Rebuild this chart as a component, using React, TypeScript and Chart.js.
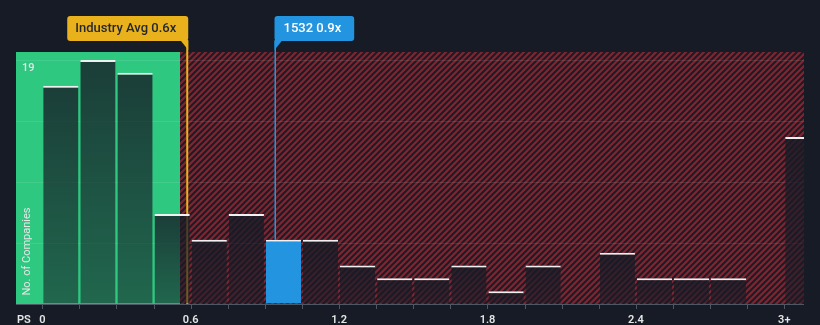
import React, { useEffect, useRef } from "react";
import { Chart, registerables } from "chart.js";

Chart.register(...registerables);

// Price-to-sales histogram: lower edge of each 0.15-wide bin, last bin is "3+"
const binStarts = [
  0, 0.15, 0.3, 0.45, 0.6, 0.75, 0.9, 1.05, 1.2, 1.35, 1.5, 1.65, 1.8, 1.95,
  2.1, 2.25, 2.4, 2.55, 2.7, 2.85, 3.0,
];
const companyCounts = [
  17, 19, 18, 7, 5, 7, 5, 5, 3, 2, 2, 3, 1, 3, 0, 4, 2, 2, 2, 0, 13,
];
const BIN_WIDTH = 0.15;
const highlightBin = 6;

const tickValues = [0, 0.6, 1.2, 1.8, 2.4, 3.0];
const tickLabels = ["0", "0.6", "1.2", "1.8", "2.4", "3+"];
const gridValues = [0, 4.75, 9.5, 14.25, 19];
const topCountLabel = 19;

const INDUSTRY_AVG = 0.586;
const COMPANY_PS = 0.939;
const COMPANY_CODE = "1532";
const FAIR_ZONE_END = 0.557;

const X_MIN = -0.1063;
const X_MAX = 3.0797;
const Y_MAX = 19.623;

const BG = "#161b26";
const GREEN = "#2ec880";
const BLUE = "#2394df";
const ORANGE = "#e9b11c";
const TEXT = "#e6e6e6";
const AXIS = "#4f5664";

const BOX_TOP = 16;
const BOX_H = 25;

function makeHatch(ctx: CanvasRenderingContext2D) {
  const c = document.createElement("canvas");
  c.width = 6;
  c.height = 6;
  const g = c.getContext("2d")!;
  g.fillStyle = "#1d1b25";
  g.fillRect(0, 0, 6, 6);
  g.strokeStyle = "#7a2833";
  g.lineWidth = 2.2;
  g.beginPath();
  g.moveTo(-1, 7);
  g.lineTo(7, -1);
  g.moveTo(-4, 4);
  g.lineTo(4, -4);
  g.moveTo(2, 10);
  g.lineTo(10, 2);
  g.stroke();
  return ctx.createPattern(c, "repeat");
}

function roundRect(ctx: CanvasRenderingContext2D, x: number, y: number, w: number, h: number, r: number) {
  ctx.beginPath();
  ctx.moveTo(x + r, y);
  ctx.lineTo(x + w - r, y);
  ctx.quadraticCurveTo(x + w, y, x + w, y + r);
  ctx.lineTo(x + w, y + h - r);
  ctx.quadraticCurveTo(x + w, y + h, x + w - r, y + h);
  ctx.lineTo(x + r, y + h);
  ctx.quadraticCurveTo(x, y + h, x, y + h - r);
  ctx.lineTo(x, y + r);
  ctx.quadraticCurveTo(x, y, x + r, y);
  ctx.closePath();
}

const decorPlugin = {
  id: "psDecor",
  beforeDraw(chart: any) {
    const { ctx, chartArea: a, scales } = chart;
    const xs = scales.x;
    ctx.save();
    ctx.fillStyle = BG;
    ctx.fillRect(0, 0, chart.width, chart.height);
    const split = Math.round(xs.getPixelForValue(FAIR_ZONE_END));
    ctx.fillStyle = GREEN;
    ctx.fillRect(a.left, a.top, split - a.left, a.bottom - a.top);
    const pat = makeHatch(ctx);
    if (pat) ctx.fillStyle = pat;
    ctx.fillRect(split, a.top, a.right - split, a.bottom - a.top);
    ctx.restore();
  },
  beforeDatasetsDraw(chart: any) {
    const { ctx, chartArea: a, scales } = chart;
    const x = scales.x.getPixelForValue(INDUSTRY_AVG);
    ctx.save();
    ctx.strokeStyle = ORANGE;
    ctx.lineWidth = 2;
    ctx.beginPath();
    ctx.moveTo(x, BOX_TOP + BOX_H);
    ctx.lineTo(x, a.bottom);
    ctx.stroke();
    ctx.restore();
  },
  afterDatasetsDraw(chart: any) {
    const { ctx, chartArea: a, scales } = chart;
    const xs = scales.x;
    const ys = scales.y;
    ctx.save();

    // axis line and bin tick marks
    ctx.strokeStyle = AXIS;
    ctx.lineWidth = 1;
    ctx.beginPath();
    ctx.moveTo(a.left, a.bottom + 0.5);
    ctx.lineTo(a.right, a.bottom + 0.5);
    binStarts.forEach((v) => {
      const px = Math.round(xs.getPixelForValue(v)) + 0.5;
      ctx.moveTo(px, a.bottom);
      ctx.lineTo(px, a.bottom + 5);
    });
    ctx.stroke();

    // tick labels
    ctx.fillStyle = TEXT;
    ctx.font = "600 11px Roboto";
    ctx.textBaseline = "middle";
    ctx.textAlign = "center";
    tickValues.forEach((v, i) => {
      ctx.fillText(tickLabels[i], xs.getPixelForValue(v), 320);
    });
    ctx.textAlign = "left";
    ctx.fillText("PS", 17, 320);

    // top count label
    ctx.font = "500 11px Roboto";
    ctx.fillText(String(topCountLabel), 22, ys.getPixelForValue(topCountLabel) + 8.5);

    // y axis title
    ctx.save();
    ctx.translate(27.5, 251.5);
    ctx.rotate(-Math.PI / 2);
    ctx.textAlign = "center";
    ctx.font = "11px Roboto";
    ctx.fillText("No. of Companies", 0, 0);
    ctx.restore();

    // industry average tag
    const avgX = xs.getPixelForValue(INDUSTRY_AVG);
    const avgText = `Industry Avg ${INDUSTRY_AVG.toFixed(1)}x`;
    ctx.font = "500 13px Roboto";
    const aw = ctx.measureText(avgText).width + 20;
    const aRight = avgX + 1;
    const aLeft = aRight - aw;
    ctx.fillStyle = ORANGE;
    roundRect(ctx, aLeft, BOX_TOP, aw, BOX_H, 3);
    ctx.fill();
    ctx.beginPath();
    ctx.moveTo(aRight - 8, BOX_TOP + BOX_H - 1);
    ctx.lineTo(aRight, BOX_TOP + BOX_H - 1);
    ctx.lineTo(aRight, BOX_TOP + BOX_H + 9);
    ctx.closePath();
    ctx.fill();
    ctx.fillStyle = "#232832";
    ctx.textAlign = "left";
    ctx.fillText(avgText, aLeft + 8, BOX_TOP + BOX_H / 2 + 0.5);

    // company tag and marker line
    const cx = Math.round(xs.getPixelForValue(COMPANY_PS));
    const compText = `${COMPANY_CODE} ${COMPANY_PS.toFixed(1)}x`;
    const cw = ctx.measureText(compText).width + 22;
    const cLeft = cx - 0.5;
    ctx.fillStyle = BLUE;
    roundRect(ctx, cLeft, BOX_TOP, cw, BOX_H, 3);
    ctx.fill();
    ctx.beginPath();
    ctx.moveTo(cLeft, BOX_TOP + BOX_H - 1);
    ctx.lineTo(cLeft + 8, BOX_TOP + BOX_H - 1);
    ctx.lineTo(cLeft, BOX_TOP + BOX_H + 9);
    ctx.closePath();
    ctx.fill();
    ctx.fillStyle = BLUE;
    const lineTop = BOX_TOP + BOX_H;
    const lineBottom = ys.getPixelForValue(companyCounts[highlightBin]);
    ctx.fillRect(cLeft, lineTop, 1.5, lineBottom - lineTop);
    ctx.fillStyle = "#ffffff";
    ctx.fillText(compText, cLeft + 9, BOX_TOP + BOX_H / 2 + 0.5);

    ctx.restore();
  },
};

export default function App() {
  const canvasRef = useRef<HTMLCanvasElement | null>(null);

  useEffect(() => {
    const canvas = canvasRef.current;
    if (!canvas) return;
    const chart = new Chart(canvas, {
      type: "bar",
      data: {
        datasets: [
          {
            data: binStarts.map((s, i) => ({ x: s + BIN_WIDTH / 2, y: companyCounts[i] })),
            backgroundColor: (c: any) => {
              if (c.dataIndex === highlightBin) return BLUE;
              const chart = c.chart;
              const ys = chart.scales && chart.scales.y;
              if (c.dataIndex === undefined || !ys || !chart.chartArea) return "rgba(22,27,38,0.7)";
              const top = ys.getPixelForValue(companyCounts[c.dataIndex]);
              const bot = ys.getPixelForValue(0);
              if (!isFinite(top) || bot - top < 1) return "rgba(22,27,38,0.7)";
              const g = chart.ctx.createLinearGradient(0, top, 0, bot);
              g.addColorStop(0, "rgba(22,27,38,0.8)");
              g.addColorStop(1, "rgba(22,27,38,0.56)");
              return g;
            },
            borderColor: "#f0f0f0",
            borderWidth: { top: 2, left: 0, right: 0, bottom: 0 },
            borderSkipped: "start",
            barPercentage: 0.95,
            categoryPercentage: 1,
          },
        ],
      },
      options: {
        responsive: false,
        animation: false,
        devicePixelRatio: 1,
        layout: { padding: { left: 16, right: 16, top: 52, bottom: 21 } },
        plugins: { legend: { display: false }, tooltip: { enabled: false } },
        scales: {
          x: {
            type: "linear",
            min: X_MIN,
            max: X_MAX,
            offset: false,
            grid: { display: false },
            border: { display: false },
            ticks: { display: false },
            afterFit: (s: any) => {
              s.height = 0;
            },
          },
          y: {
            type: "linear",
            min: 0,
            max: Y_MAX,
            afterBuildTicks: (s: any) => {
              s.ticks = gridValues.map((v) => ({ value: v }));
            },
            grid: { color: "rgba(255,255,255,0.1)", drawTicks: false, lineWidth: 1 },
            border: { display: false },
            ticks: { display: false },
            afterFit: (s: any) => {
              s.width = 0;
            },
          },
        },
      },
      plugins: [decorPlugin],
    } as any);
    return () => chart.destroy();
  }, []);

  return (
    <div style={{ position: "fixed", left: 0, top: 0, width: 820, height: 325, background: BG }}>
      <canvas ref={canvasRef} width={820} height={325} style={{ display: "block", width: 820, height: 325 }} />
    </div>
  );
}
